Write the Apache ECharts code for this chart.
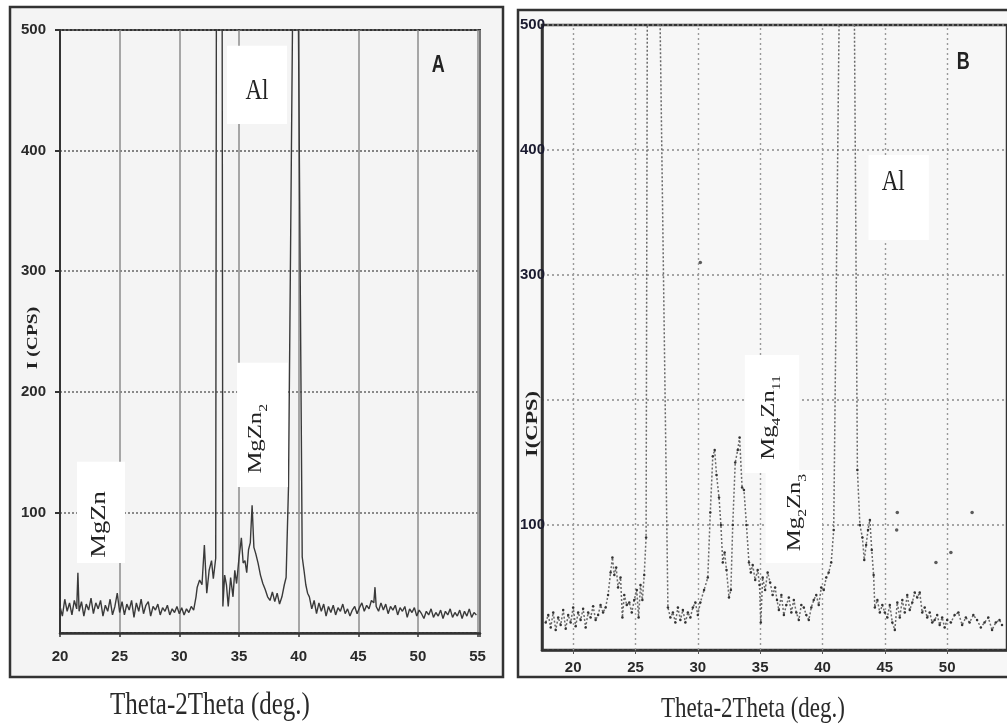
<!DOCTYPE html>
<html><head><meta charset="utf-8">
<script src="https://cdn.jsdelivr.net/npm/echarts@6/dist/echarts.min.js"></script>
<style>html,body{margin:0;padding:0;background:#fff}#c{width:1007px;height:726px}</style>
</head><body><div id="c"></div>
<script>
// ---------- Panel A data (2θ in degrees, intensity in CPS) ----------
const angleA = [20.0,20.2,20.4,20.6,20.8,21.0,21.2,21.4,21.5,21.6,21.8,22.0,22.2,22.4,22.6,22.8,23.0,23.2,23.4,23.6,23.8,24.0,24.2,24.4,24.6,24.8,25.0,25.2,25.4,25.6,25.8,26.0,26.2,26.4,26.6,26.8,27.0,27.2,27.4,27.6,27.8,28.0,28.2,28.4,28.6,28.8,29.0,29.2,29.4,29.6,29.8,30.0,30.2,30.4,30.6,30.8,31.0,31.2,31.4,31.5,31.7,31.9,32.1,32.3,32.5,32.7,32.85,33.05,33.35,33.65,33.8,33.95,34.1,34.3,34.5,34.65,34.8,35.0,35.2,35.35,35.5,35.65,35.8,35.95,36.1,36.25,36.4,36.6,36.8,37.0,37.2,37.4,37.6,37.8,38.0,38.2,38.4,38.6,38.8,38.95,39.15,39.5,39.75,39.97,40.3,40.45,40.6,40.75,40.9,41.1,41.3,41.5,41.7,41.9,42.1,42.3,42.5,42.7,42.9,43.1,43.3,43.5,43.7,43.9,44.1,44.3,44.5,44.7,44.9,45.1,45.3,45.5,45.7,45.9,46.1,46.3,46.4,46.5,46.7,46.9,47.1,47.3,47.5,47.7,47.9,48.1,48.3,48.5,48.7,48.9,49.1,49.3,49.5,49.7,49.9,50.1,50.3,50.5,50.7,50.9,51.1,51.3,51.5,51.7,51.9,52.1,52.3,52.5,52.7,52.9,53.1,53.3,53.5,53.7,53.9,54.1,54.3,54.5,54.7,54.9];
const countA = [22,14,28,18,25,15,27,20,50,18,26,14,24,19,29,16,25,20,27,14,23,18,28,15,22,33,17,26,15,24,19,27,13,25,18,28,16,23,26,14,22,19,24,15,21,18,23,15,20,17,22,16,21,15,20,17,22,19,30,38,44,40,73,33,52,60,45,62,2500,22,48,40,22,46,30,52,41,62,79,58,60,50,69,75,106,71,66,58,48,41,36,30,27,34,26,33,24,30,40,46,121,520,2500,520,63,52,40,33,30,20,27,16,25,18,24,14,22,17,23,15,21,18,24,16,20,14,19,22,16,21,25,18,23,20,27,25,38,22,18,25,19,24,16,22,19,23,15,21,18,22,13,20,17,21,14,19,16,12,18,15,20,13,17,14,19,12,18,15,20,13,17,14,19,12,18,14,20,13,17,15];

// ---------- Panel B data ----------
const angleB = [17.8,18.0,18.2,18.4,18.6,18.8,19.0,19.2,19.4,19.6,19.8,20.0,20.2,20.4,20.6,20.8,21.0,21.2,21.4,21.6,21.8,22.0,22.2,22.4,22.6,22.8,23.0,23.15,23.3,23.45,23.6,23.8,23.95,24.1,24.3,24.5,24.7,24.9,25.1,25.25,25.4,25.55,25.7,25.85,25.95,26.45,26.95,27.6,27.8,28.0,28.2,28.4,28.6,28.8,29.0,29.2,29.4,29.6,29.8,30.0,30.2,30.5,30.8,31.0,31.2,31.35,31.5,31.7,31.85,32.0,32.15,32.3,32.5,32.65,32.8,33.0,33.2,33.35,33.55,33.7,33.9,34.1,34.25,34.4,34.6,34.8,34.95,35.05,35.2,35.4,35.6,35.8,36.0,36.2,36.35,36.5,36.7,36.9,37.1,37.3,37.5,37.7,37.9,38.1,38.3,38.5,38.7,38.9,39.1,39.3,39.5,39.7,39.9,40.1,40.3,40.5,40.7,40.9,41.35,42.0,42.55,42.8,43.0,43.2,43.35,43.5,43.65,43.8,43.95,44.1,44.2,44.4,44.6,44.8,45.0,45.2,45.4,45.6,45.8,46.0,46.2,46.4,46.6,46.8,47.0,47.2,47.4,47.6,47.8,48.0,48.2,48.4,48.6,48.8,49.0,49.2,49.4,49.6,49.8,50.0,50.3,50.6,50.9,51.2,51.5,51.8,52.1,52.4,52.7,53.0,53.3,53.6,53.9,54.2,54.4];
const countB = [22,28,18,30,16,26,20,32,17,28,22,34,19,30,24,33,18,30,26,35,24,28,36,30,34,44,62,74,60,66,50,58,26,44,36,38,30,40,48,26,52,40,60,90,520,2000,520,34,26,30,22,34,24,32,22,30,26,34,38,28,38,48,58,110,155,160,140,122,100,70,78,64,42,48,100,150,160,170,130,128,100,70,62,68,56,64,52,22,58,48,62,54,44,50,40,32,44,28,36,42,30,40,30,24,36,34,28,24,34,40,44,36,50,48,58,62,70,96,520,2000,520,144,100,90,72,84,96,104,80,60,34,40,30,36,30,26,36,22,16,38,26,40,30,44,32,38,46,42,46,30,34,26,30,22,24,28,20,26,18,24,22,28,30,20,26,22,28,24,18,22,26,16,22,24,20];
const strayAngleB = [30.2, 45.95, 46.0, 49.1, 50.3, 52.0];
const strayCountB = [310, 96, 110, 70, 78, 110];

// ---------- axes / ticks ----------
const xTicksA = [20, 25, 30, 35, 40, 45, 50, 55];
const xTicksB = [20, 25, 30, 35, 40, 45, 50];
const hiddenYLabelsB = [0, 200];

// ---------- annotation texts ----------
const xTitle = 'Theta-2Theta (deg.)';
const yTitleA = 'I (CPS)';
const yTitleB = 'I(CPS)';

const dataA = angleA.map((x, i) => [x, countA[i]]);
const dataB = angleB.map((x, i) => [x, countB[i]]);
const strayB = strayAngleB.map((x, i) => [x, strayCountB[i]]);

const chart = echarts.init(document.getElementById('c'));
const sans = "'Liberation Sans', Arial, sans-serif";
const serif = "'Liberation Serif', 'Times New Roman', serif";
const tickLabel = {color: '#2a2a2a', fontWeight: 'bold', fontSize: 15, fontFamily: sans};

chart.setOption({
  animation: false,
  backgroundColor: '#ffffff',
  grid: [
    {left: 60, top: 30, width: 420, height: 603, show: true, borderColor: '#333', borderWidth: 2, backgroundColor: '#f4f4f4'},
    {left: 542, top: 25, width: 470, height: 625, show: true, borderColor: '#333', borderWidth: 2.5, backgroundColor: '#f7f7f7'}
  ],
  xAxis: [
    {gridIndex: 0, type: 'value', min: 20, max: 55.2, interval: 5,
     axisLine: {show: true, onZero: false, lineStyle: {color: '#333', width: 2.5}},
     axisTick: {show: true, length: 4, lineStyle: {color: '#333', width: 1.5}},
     axisLabel: Object.assign({margin: 16, customValues: xTicksA}, tickLabel),
     splitLine: {show: true, lineStyle: {color: '#8c8c8c', width: 1.5}}},
    {gridIndex: 1, type: 'value', min: 17.5, max: 54.8,
     axisLine: {show: true, onZero: false, lineStyle: {color: '#333', width: 2.5}},
     axisTick: {show: true, length: 4, customValues: xTicksB, lineStyle: {color: '#555'}},
     axisLabel: Object.assign({margin: 10, customValues: xTicksB}, tickLabel),
     splitLine: {show: false}}
  ],
  yAxis: [
    {gridIndex: 0, type: 'value', min: 0, max: 500, interval: 100,
     axisLine: {show: true, lineStyle: {color: '#333', width: 2}},
     axisTick: {show: true, length: 5, lineStyle: {color: '#333', width: 2}},
     axisLabel: Object.assign({margin: 14, showMinLabel: false}, tickLabel),
     splitLine: {show: true, lineStyle: {color: '#666', width: 1.6, type: [2, 2]}}},
    {gridIndex: 1, type: 'value', min: 0, max: 500, interval: 100,
     axisLine: {show: true, lineStyle: {color: '#333', width: 2.5}},
     axisTick: {show: false},
     axisLabel: Object.assign({margin: -3, formatter: v => hiddenYLabelsB.includes(v) ? '' : String(v)}, tickLabel, {color: '#1b1b30'}),
     splitLine: {show: true, lineStyle: {color: '#8a8a8a', width: 1.5, type: [2, 3]}}}
  ],
  series: [
    {type: 'line', xAxisIndex: 0, yAxisIndex: 0, data: dataA, showSymbol: false, clip: true,
     lineStyle: {color: '#3a3a3a', width: 1.4}},
    {type: 'line', xAxisIndex: 1, yAxisIndex: 1, data: dataB, clip: true,
     symbol: 'circle', symbolSize: 2.5, itemStyle: {color: '#333'},
     lineStyle: {color: '#6a6a6a', width: 1.5, type: [2, 2]},
     markLine: {silent: true, symbol: 'none', z: 1, label: {show: false},
       lineStyle: {color: '#9a9a9a', width: 1.4, type: [2, 3]},
       data: xTicksB.map(v => ({xAxis: v}))}},
    {type: 'scatter', xAxisIndex: 1, yAxisIndex: 1, data: strayB, symbolSize: 3.5, itemStyle: {color: '#333'}}
  ]
});

// ---------- annotations anchored in data space ----------
function px(g, x, y) { return chart.convertToPixel({gridIndex: g}, [x, y]); }
function box(g, x0, y0, x1, y1) {
  const a = px(g, x0, y0), b = px(g, x1, y1);
  return {type: 'rect', z: 100, silent: true,
    shape: {x: Math.min(a[0], b[0]), y: Math.min(a[1], b[1]), width: Math.abs(b[0] - a[0]), height: Math.abs(b[1] - a[1])},
    style: {fill: '#ffffff'}};
}
function label(g, x, y, text, opt) {
  const p = px(g, x, y);
  return Object.assign({type: 'text', z: 101, silent: true, x: p[0], y: p[1],
    style: Object.assign({text: text, textAlign: 'center', textVerticalAlign: 'middle', fill: '#222'}, opt.style)},
    opt.el || {});
}
const subRich = {
  n: {fontFamily: serif, fontSize: 19, fill: '#222'},
  s: {fontFamily: serif, fontSize: 12, fill: '#222', verticalAlign: 'bottom', padding: [0, 0, -4, 0]}
};
const g = [
  // frames
  {type: 'rect', z: -1, silent: true, shape: {x: 10, y: 7, width: 493, height: 670}, style: {fill: '#f4f4f4', stroke: '#333', lineWidth: 2.5}},
  {type: 'rect', z: -1, silent: true, shape: {x: 518, y: 10, width: 500, height: 667}, style: {fill: '#f7f7f7', stroke: '#333', lineWidth: 2.5}},
  // panel A
  label(0, 51.7, 471, 'A', {style: {font: 'bold 18px ' + sans, fill: '#222'}, el: {scaleY: 1.35}}),
  box(0, 34.0, 487, 39.03, 422),
  label(0, 36.5, 449, 'Al', {style: {font: '23px ' + serif}, el: {scaleY: 1.3}}),
  box(0, 34.84, 224, 39.11, 121),
  label(0, 36.43, 161, '{n|MgZn}{s|2}', {style: {rich: subRich}, el: {rotation: Math.PI / 2, scaleX: 1.3}}),
  box(0, 21.42, 142, 25.45, 58),
  label(0, 23.35, 90, 'MgZn', {style: {font: '20px ' + serif}, el: {rotation: Math.PI / 2, scaleX: 1.33}}),
  // panel B
  label(1, 51.3, 470, 'B', {style: {font: 'bold 18px ' + sans, fill: '#222'}, el: {scaleY: 1.35}}),
  box(1, 43.69, 396, 48.53, 328),
  label(1, 45.67, 374, 'Al', {style: {font: '23px ' + serif}, el: {scaleY: 1.3}}),
  box(1, 33.77, 236, 38.13, 141.6),
  label(1, 35.75, 186, '{n|Mg}{s|4}{n|Zn}{s|11}', {style: {rich: subRich}, el: {rotation: Math.PI / 2, scaleX: 1.3}}),
  box(1, 35.44, 144, 39.96, 69.6),
  label(1, 37.82, 110, '{n|Mg}{s|2}{n|Zn}{s|3}', {style: {rich: subRich}, el: {rotation: Math.PI / 2, scaleX: 1.3}}),
  // axis titles
  {type: 'text', z: 101, silent: true, x: 33, y: 338, rotation: Math.PI / 2, scaleX: 1.3,
   style: {text: yTitleA, font: 'bold 15px ' + serif, fill: '#222', textAlign: 'center', textVerticalAlign: 'middle'}},
  {type: 'text', z: 101, silent: true, x: 533, y: 424, rotation: Math.PI / 2, scaleX: 1.4,
   style: {text: yTitleB, font: 'bold 16px ' + serif, fill: '#222', textAlign: 'center', textVerticalAlign: 'middle'}},
  {type: 'text', z: 101, silent: true, x: 210, y: 706, scaleY: 1.25,
   style: {text: xTitle, font: '25px ' + serif, fill: '#2a2a2a', textAlign: 'center', textVerticalAlign: 'middle'}},
  {type: 'text', z: 101, silent: true, x: 753, y: 709, scaleY: 1.25,
   style: {text: xTitle, font: '23px ' + serif, fill: '#2a2a2a', textAlign: 'center', textVerticalAlign: 'middle'}}
];
chart.setOption({graphic: g});
</script></body></html>
